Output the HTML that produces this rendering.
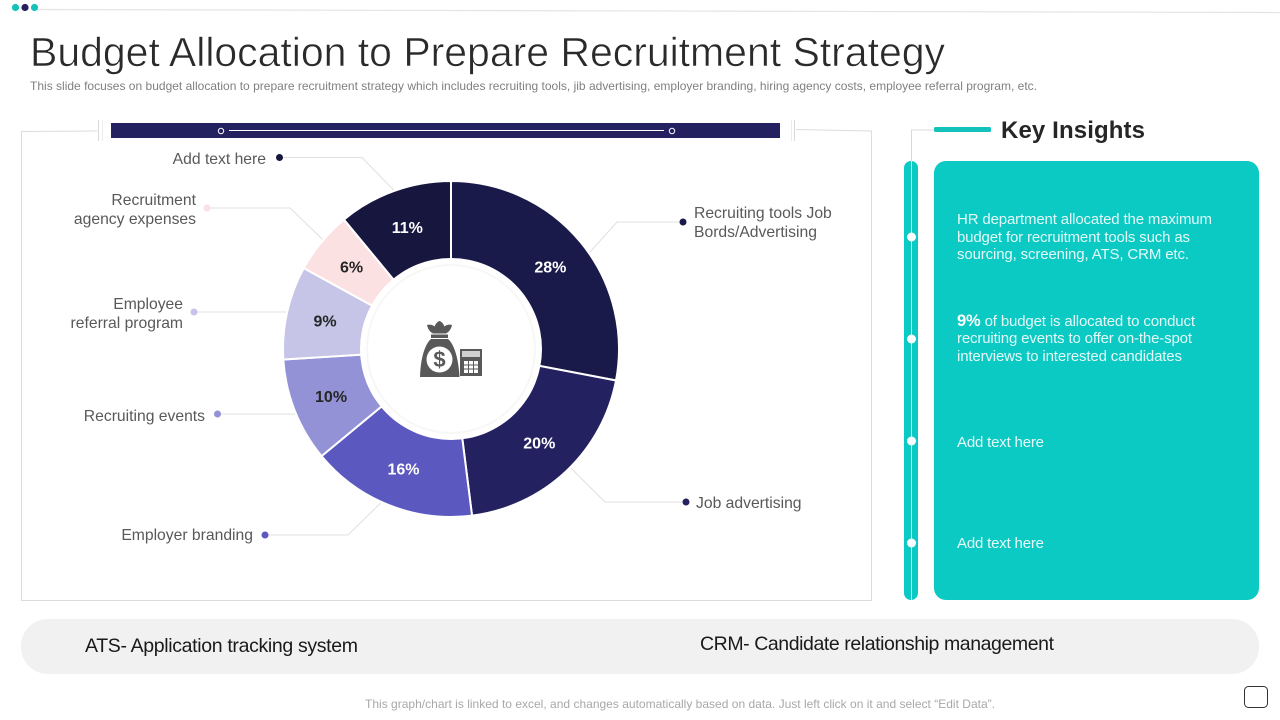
<!DOCTYPE html>
<html lang="en">
<head>
<meta charset="utf-8">
<title>Budget Allocation to Prepare Recruitment Strategy</title>
<style>
html,body{margin:0;padding:0;background:#fff;width:1280px;height:720px;overflow:hidden}
svg{display:block;font-family:"Liberation Sans",sans-serif}
.insight{font-size:15px;fill:#e4f9f8}
</style>
</head>
<body>
<svg id="slide" width="1280" height="720" viewBox="0 0 1280 720" xmlns="http://www.w3.org/2000/svg">
  <rect width="1280" height="720" fill="#fff"/>

  <g>
    <line x1="38" y1="9.5" x2="1280" y2="12.5" stroke="#e4e4e4" stroke-width="1.2"/>
    <circle cx="15.5" cy="7.5" r="3.6" fill="#12c2bb"/>
    <circle cx="25" cy="7.5" r="3.6" fill="#23215f"/>
    <circle cx="34.5" cy="7.5" r="3.6" fill="#12c2bb"/>
  </g>

  <text x="30" y="66" font-size="41" fill="#2a2a2a" stroke="#fff" stroke-width="0.6" textLength="915" lengthAdjust="spacing">Budget Allocation to Prepare Recruitment Strategy</text>
  <text x="30" y="90" font-size="12" fill="#808080" textLength="1007" lengthAdjust="spacing">This slide focuses on budget allocation to prepare recruitment strategy which includes recruiting tools, jib advertising, employer branding, hiring agency costs, employee referral program, etc.</text>

  <g>
    <path d="M97 131 L21.5 131.5 V600.5 H871.5 V131 L796 129.5" fill="none" stroke="#dcdcdc" stroke-width="1"/>
    <line x1="98.5" y1="120" x2="98.5" y2="141" stroke="#d8d8d8"/>
    <line x1="102.5" y1="120" x2="102.5" y2="141" stroke="#ececec"/>
    <line x1="791.5" y1="120" x2="791.5" y2="141" stroke="#ececec"/>
    <line x1="794.5" y1="120" x2="794.5" y2="141" stroke="#d8d8d8"/>
    <rect x="111" y="123" width="669" height="15" fill="#23215f"/>
    <line x1="229" y1="130.5" x2="664" y2="130.5" stroke="#fff" stroke-width="1"/>
    <circle cx="221" cy="131" r="2.7" fill="none" stroke="#fff" stroke-width="1"/>
    <circle cx="672" cy="131" r="2.7" fill="none" stroke="#fff" stroke-width="1"/>
  </g>

  <g id="leaders"></g>
  <g id="slices"></g>
  <g id="values"></g>
  <g id="labels"></g>

  <g>
    <circle cx="451" cy="349" r="91" fill="#fff"/>
    <circle cx="451" cy="349" r="84" fill="none" stroke="#f7f7f5" stroke-width="2"/>
    <g fill="#595959">
      <path d="M427 325 C430 324 433 325 434.500 326.500 C435.500 324 437.500 321.500 439.500 321 C441.500 321.500 443.500 324 444.500 326.500 C446 325 449 324 452 325 C451 330 448 332.500 446 333.500 H433 C431 332.500 428 330 427 325Z"/>
      <rect x="431" y="334.500" width="17" height="3.500"/>
      <path d="M431 339 H448 C454 344 458.500 358 459.500 377 H420 C420.500 358 425 344 431 339Z"/>
      <circle cx="439.500" cy="359.500" r="13" fill="#fff"/>
      <text x="439.500" y="367" text-anchor="middle" font-size="22" font-weight="700" fill="#595959">$</text>
      <rect x="460" y="349" width="22" height="27"/>
      <rect x="462" y="351" width="18" height="6" fill="#cfcfcf"/>
      <rect x="464" y="361" width="14" height="12" fill="#fff"/>
      <path fill="none" stroke="#595959" stroke-width="1" d="M468.500 361v12M473.500 361v12M464 365h14M464 369h14"/>
    </g>
  </g>

  <g>
    <path d="M934 130 H911.500 V161" fill="none" stroke="#d8d8d8" stroke-width="1"/>
    <rect x="934" y="127" width="57" height="5" rx="1.500" fill="#12c2bb"/>
    <text x="1001" y="138" font-size="24" font-weight="700" fill="#262626" textLength="144" lengthAdjust="spacing">Key Insights</text>
    <rect x="904" y="161" width="14" height="439" rx="7" fill="#0bc9c3"/>
    <line x1="911.500" y1="161" x2="911.500" y2="600" stroke="#d9f6f5" stroke-width="1"/>
    <circle cx="911.500" cy="237" r="4.500" fill="#fff"/>
    <circle cx="911.500" cy="339" r="4.500" fill="#fff"/>
    <circle cx="911.500" cy="441" r="4.500" fill="#fff"/>
    <circle cx="911.500" cy="543" r="4.500" fill="#fff"/>
    <rect x="934" y="161" width="325" height="439" rx="12" fill="#0bc9c3"/>
    <text class="insight" x="957" y="224" textLength="255" lengthAdjust="spacing">HR department allocated the maximum</text>
    <text class="insight" x="957" y="242" textLength="233" lengthAdjust="spacing">budget for recruitment tools such as</text>
    <text class="insight" x="957" y="259" textLength="232" lengthAdjust="spacing">sourcing, screening, ATS, CRM etc.</text>
    <text class="insight" x="957" y="326" textLength="238" lengthAdjust="spacing"><tspan font-size="16.500" font-weight="700" fill="#fff">9%</tspan> of budget is allocated to conduct</text>
    <text class="insight" x="957" y="343" textLength="235" lengthAdjust="spacing">recruiting events to offer on-the-spot</text>
    <text class="insight" x="957" y="361" textLength="225" lengthAdjust="spacing">interviews to interested candidates</text>
    <text class="insight" x="957" y="447" textLength="87" lengthAdjust="spacing">Add text here</text>
    <text class="insight" x="957" y="548" textLength="87" lengthAdjust="spacing">Add text here</text>
  </g>

  <g>
    <rect x="21" y="619" width="1238" height="55" rx="27" fill="#f1f1f1"/>
    <text x="85" y="652" font-size="19.5" fill="#1a1a1a" textLength="273" lengthAdjust="spacing">ATS- Application tracking system</text>
    <text x="700" y="650" font-size="19.5" fill="#1a1a1a" textLength="354" lengthAdjust="spacing">CRM- Candidate relationship management</text>
  </g>

  <text x="365" y="708" font-size="12" fill="#a8a8a8" textLength="630" lengthAdjust="spacing">This graph/chart is linked to excel, and changes automatically based on data. Just left click on it and select “Edit Data”.</text>
  <rect x="1244.500" y="686.500" width="23" height="21" rx="4" fill="#fff" stroke="#333" stroke-width="1"/>
</svg>

<script>
// Chart data
const categories = ["Recruiting tools Job Bords/Advertising", "Job advertising", "Employer branding", "Recruiting events", "Employee referral program", "Recruitment agency expenses", "Add text here"];
const shareValues = [28, 20, 16, 10, 9, 6, 11];
const valueLabels = ["28%", "20%", "16%", "10%", "9%", "6%", "11%"];

// Appearance and layout, kept apart from the data
const sliceColors = ["#1a1a4a", "#23215f", "#5b58c0", "#9492d6", "#c6c5e8", "#fce1e3", "#16163f"];
const valueColors = ["#fff", "#fff", "#fff", "#262626", "#262626", "#262626", "#fff"];
const labelLines = [["Recruiting tools Job", "Bords/Advertising"], ["Job advertising"], ["Employer branding"], ["Recruiting events"], ["Employee", "referral program"], ["Recruitment", "agency expenses"], ["Add text here"]];
const calloutDots = [[683, 222, 617], [686, 502, 605], [265, 535, 348], [217.500, 414, 285], [194, 312, 286], [207, 208, 290], [279.500, 157.500, 362]];
const calloutText = [[694, 218, "start"], [696, 508, "start"], [253, 540, "end"], [205, 421, "end"], [183, 309, "end"], [196, 205, "end"], [266, 164, "end"]];
const leaderAngleNudgeDeg = [5, -2, 2.500, -1.500, 0, 0.800, 0.400];

const SVG_NS = "http://www.w3.org/2000/svg";
const centerX = 451, centerY = 349, outerRadius = 168, labelRadius = 129;
const totalShare = shareValues.reduce(function (a, b) { return a + b; }, 0);

function angleScale(share) { return share / totalShare * Math.PI * 2; }
function polarX(angle, radius) { return centerX + Math.sin(angle) * radius; }
function polarY(angle, radius) { return centerY - Math.cos(angle) * radius; }
function make(tag, parent, props) {
  const el = document.createElementNS(SVG_NS, tag);
  Object.keys(props).forEach(function (k) { el.setAttribute(k, props[k]); });
  parent.appendChild(el);
  return el;
}

const slicesGroup = document.getElementById("slices");
const leadersGroup = document.getElementById("leaders");
const valuesGroup = document.getElementById("values");
const labelsGroup = document.getElementById("labels");

let running = 0;
shareValues.forEach(function (value, i) {
  const start = angleScale(running);
  const end = angleScale(running + value);
  const mid = (start + end) / 2;
  running += value;
  const large = end - start > Math.PI ? 1 : 0;

  const slice = make("path", slicesGroup, {
    d: "M" + centerX + " " + centerY + " L" + polarX(start, outerRadius) + " " + polarY(start, outerRadius) +
       " A" + outerRadius + " " + outerRadius + " 0 " + large + " 1 " + polarX(end, outerRadius) + " " + polarY(end, outerRadius) + "Z",
    fill: sliceColors[i], stroke: "#fff", "stroke-width": 2
  });
  
  

  const value_label = make("text", valuesGroup, {
    x: polarX(mid, labelRadius), y: polarY(mid, labelRadius) + 5.500,
    "text-anchor": "middle", "font-size": 16, "font-weight": 700, fill: valueColors[i]
  });
  value_label.textContent = valueLabels[i];
  
  

  const dot = calloutDots[i];
  const leaderAngle = mid + leaderAngleNudgeDeg[i] * Math.PI / 180;
  const leader = make("path", leadersGroup, {
    d: "M" + dot[0] + " " + dot[1] + " H" + dot[2] + " L" + polarX(leaderAngle, outerRadius - 2) + " " + polarY(leaderAngle, outerRadius - 2),
    fill: "none", stroke: "#e0e0e0", "stroke-width": 1
  });
  
  

  const marker = make("circle", labelsGroup, { cx: dot[0], cy: dot[1], r: 3.500, fill: sliceColors[i] });
  
  

  const pos = calloutText[i];
  labelLines[i].forEach(function (line, n) {
    const t = make("text", labelsGroup, {
      x: pos[0], y: pos[1] + n * 19, "text-anchor": pos[2], "font-size": 15.700, fill: "#595959"
    });
    t.textContent = line;
    
    
  });
});
</script>
</body>
</html>
